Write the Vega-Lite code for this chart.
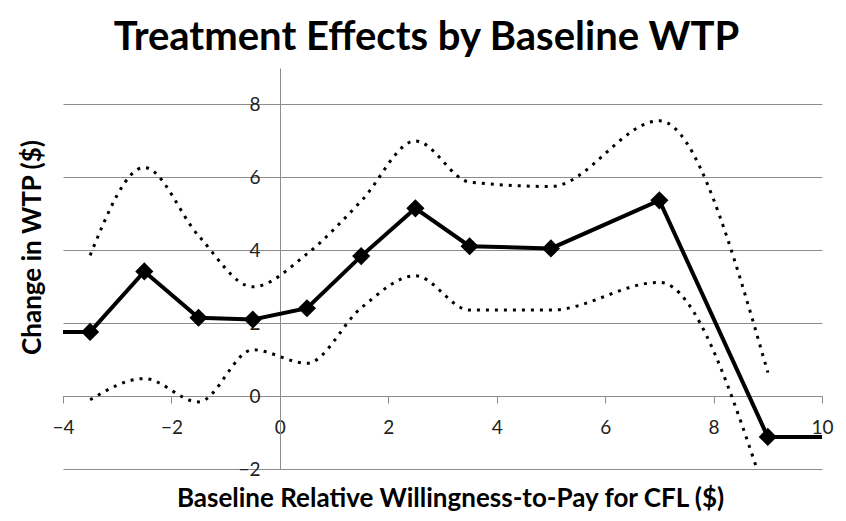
{
  "$schema": "https://vega.github.io/schema/vega-lite/v6.json",
  "width": 759,
  "height": 401,
  "autosize": {"type": "none"},
  "padding": {"left": 63, "top": 68, "right": 24, "bottom": 52},
  "background": "white",
  "title": {
    "text": "Treatment Effects by Baseline WTP",
    "font": "Lato",
    "fontSize": 40,
    "fontWeight": "bold",
    "color": "#000000",
    "anchor": "middle",
    "frame": "group",
    "dx": -16,
    "dy": 37,
    "baseline": "alphabetic",
    "offset": 15
  },
  "config": {
    "view": {"stroke": null},
    "axis": {"labelFont": "Lato", "titleFont": "Lato"}
  },
  "datasets": {
    "est": [
      {"x": -4, "y": 1.76},
      {"x": -3.5, "y": 1.76},
      {"x": -2.5, "y": 3.42},
      {"x": -1.5, "y": 2.15},
      {"x": -0.5, "y": 2.1},
      {"x": 0.5, "y": 2.41},
      {"x": 1.5, "y": 3.84},
      {"x": 2.5, "y": 5.15},
      {"x": 3.5, "y": 4.11},
      {"x": 5, "y": 4.05},
      {"x": 7, "y": 5.37},
      {"x": 9, "y": -1.12},
      {"x": 10, "y": -1.12}
    ],
    "bounds": [
      {"x": -3.5, "upper": 3.86, "lower": -0.1},
      {"x": -2.5, "upper": 6.27, "lower": 0.48},
      {"x": -1.5, "upper": 4.4, "lower": -0.16},
      {"x": -0.5, "upper": 3.0, "lower": 1.27},
      {"x": 0.5, "upper": 3.9, "lower": 0.9},
      {"x": 1.5, "upper": 5.35, "lower": 2.42},
      {"x": 2.5, "upper": 7.0, "lower": 3.3},
      {"x": 3.5, "upper": 5.87, "lower": 2.36},
      {"x": 5, "upper": 5.75, "lower": 2.36},
      {"x": 7, "upper": 7.55, "lower": 3.12},
      {"x": 9, "upper": 0.65, "lower": -2.9}
    ]
  },
  "encoding": {
    "x": {
      "field": "x",
      "type": "quantitative",
      "scale": {"domain": [-4, 10], "nice": false, "zero": false},
      "axis": {
        "title": "Baseline Relative Willingness-to-Pay for CFL ($)",
        "values": [-4, -2, 0, 2, 4, 6, 8, 10],
        "offset": -73,
        "grid": false,
        "domainColor": "#8c8c8c",
        "tickColor": "#8c8c8c",
        "tickSize": 7,
        "labelFontSize": 19,
        "labelColor": "#222222",
        "labelPadding": 15,
        "labelFlush": false,
        "titleFontSize": 26,
        "titleFontWeight": "bold",
        "titleColor": "#000000",
        "titleX": 387,
        "titleY": 110,
        "titleAlign": "center",
        "titleBaseline": "alphabetic"
      }
    }
  },
  "layer": [
    {
      "data": {"name": "bounds"},
      "mark": {"type": "line", "color": "black", "strokeWidth": 3, "strokeDash": [3, 6], "interpolate": "monotone", "clip": true},
      "encoding": {
        "y": {
          "field": "upper",
          "type": "quantitative",
          "scale": {"domain": [-2, 9], "nice": false, "zero": false},
          "axis": {
            "title": "Change in WTP ($)",
            "values": [-2, 0, 2, 4, 6, 8],
            "offset": -217,
            "grid": true,
            "gridColor": "#8c8c8c",
            "gridWidth": 1,
            "domainColor": "#8c8c8c",
            "ticks": false,
            "labelFontSize": 19,
            "labelColor": "#222222",
            "labelPadding": 20,
            "labelFlush": false,
            "titleFontSize": 26,
            "titleFontWeight": "bold",
            "titleColor": "#000000",
            "titleX": -248,
            "titleY": 179,
            "titleAngle": -90,
            "titleAlign": "center",
            "titleBaseline": "middle"
          }
        }
      }
    },
    {
      "data": {"name": "bounds"},
      "mark": {"type": "line", "color": "black", "strokeWidth": 3, "strokeDash": [3, 6], "interpolate": "monotone", "clip": true},
      "encoding": {"y": {"field": "lower", "type": "quantitative"}}
    },
    {
      "data": {"name": "est"},
      "mark": {"type": "line", "color": "black", "strokeWidth": 4, "clip": true},
      "encoding": {"y": {"field": "y", "type": "quantitative"}}
    },
    {
      "data": {"name": "est"},
      "transform": [{"filter": "datum.x > -4 && datum.x < 10"}],
      "mark": {"type": "point", "shape": "diamond", "filled": true, "color": "black", "opacity": 1, "size": 330},
      "encoding": {"y": {"field": "y", "type": "quantitative"}}
    }
  ]
}
